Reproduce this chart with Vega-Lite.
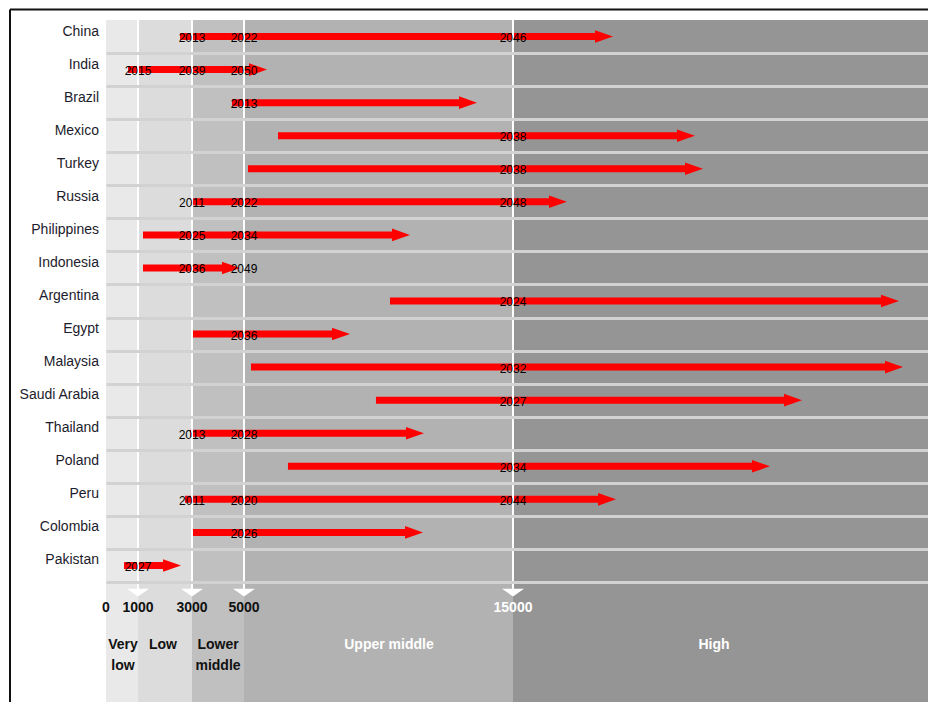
{
  "$schema": "https://vega.github.io/schema/vega-lite/v6.json",
  "width": 822,
  "height": 682,
  "autosize": "none",
  "padding": {"left": 106, "top": 20, "right": 0, "bottom": 0},
  "background": "white",
  "config": {
    "view": {"stroke": null},
    "axisX": {"disable": true},
    "font": "Liberation Sans"
  },
  "datasets": {
    "countries": [
      {"country": "China", "row": 0, "start": 2556, "end": 18717},
      {"country": "India", "row": 1, "start": 688, "end": 5855},
      {"country": "Brazil", "row": 2, "start": 4538, "end": 13661},
      {"country": "Mexico", "row": 3, "start": 6264, "end": 21765},
      {"country": "Turkey", "row": 4, "start": 5149, "end": 22062},
      {"country": "Russia", "row": 5, "start": 3000, "end": 17007},
      {"country": "Philippines", "row": 6, "start": 1185, "end": 11170},
      {"country": "Indonesia", "row": 7, "start": 1185, "end": 4846},
      {"country": "Argentina", "row": 8, "start": 10427, "end": 29348},
      {"country": "Egypt", "row": 9, "start": 3000, "end": 8940},
      {"country": "Malaysia", "row": 10, "start": 5260, "end": 29496},
      {"country": "Saudi Arabia", "row": 11, "start": 9906, "end": 25742},
      {"country": "Thailand", "row": 12, "start": 2926, "end": 11691},
      {"country": "Poland", "row": 13, "start": 6635, "end": 24553},
      {"country": "Peru", "row": 14, "start": 2741, "end": 18829},
      {"country": "Colombia", "row": 15, "start": 3038, "end": 11654},
      {"country": "Pakistan", "row": 16, "start": 563, "end": 2593}
    ],
    "years": [
      {"country": "China", "v": 3000, "year": "2013"},
      {"country": "China", "v": 5000, "year": "2022"},
      {"country": "China", "v": 15000, "year": "2046"},
      {"country": "India", "v": 1000, "year": "2015"},
      {"country": "India", "v": 3000, "year": "2039"},
      {"country": "India", "v": 5000, "year": "2050"},
      {"country": "Brazil", "v": 5000, "year": "2013"},
      {"country": "Mexico", "v": 15000, "year": "2038"},
      {"country": "Turkey", "v": 15000, "year": "2038"},
      {"country": "Russia", "v": 3000, "year": "2011"},
      {"country": "Russia", "v": 5000, "year": "2022"},
      {"country": "Russia", "v": 15000, "year": "2048"},
      {"country": "Philippines", "v": 3000, "year": "2025"},
      {"country": "Philippines", "v": 5000, "year": "2034"},
      {"country": "Indonesia", "v": 3000, "year": "2036"},
      {"country": "Indonesia", "v": 5000, "year": "2049"},
      {"country": "Argentina", "v": 15000, "year": "2024"},
      {"country": "Egypt", "v": 5000, "year": "2036"},
      {"country": "Malaysia", "v": 15000, "year": "2032"},
      {"country": "Saudi Arabia", "v": 15000, "year": "2027"},
      {"country": "Thailand", "v": 3000, "year": "2013"},
      {"country": "Thailand", "v": 5000, "year": "2028"},
      {"country": "Poland", "v": 15000, "year": "2034"},
      {"country": "Peru", "v": 3000, "year": "2011"},
      {"country": "Peru", "v": 5000, "year": "2020"},
      {"country": "Peru", "v": 15000, "year": "2044"},
      {"country": "Colombia", "v": 5000, "year": "2026"},
      {"country": "Pakistan", "v": 1000, "year": "2027"}
    ],
    "thresholds": [
      {"v": 0, "lab": "0"},
      {"v": 1000, "lab": "1000"},
      {"v": 3000, "lab": "3000"},
      {"v": 5000, "lab": "5000"},
      {"v": 15000, "lab": "15000"}
    ],
    "bands": [
      {"band": "Very low", "from": 0, "to": 1000, "mid": 531, "label": ["Very", "low"]},
      {"band": "Low", "from": 1000, "to": 3000, "mid": 1926, "label": ["Low"]},
      {"band": "Lower middle", "from": 3000, "to": 5000, "mid": 4000, "label": ["Lower", "middle"]},
      {"band": "Upper middle", "from": 5000, "to": 15000, "mid": 10390, "label": ["Upper middle"]},
      {"band": "High", "from": 15000, "to": 30426, "mid": 22471, "label": ["High"]}
    ]
  },
  "layer": [
    {
      "data": {"name": "bands"},
      "mark": {"type": "rect"},
      "encoding": {
        "x": {"field": "from", "type": "quantitative", "scale": {"type": "linear", "domain": [0, 1000, 3000, 5000, 15000, 30426], "range": [0, 32, 86, 138, 407, 822], "nice": false, "zero": false}},
        "x2": {"field": "to"},
        "color": {"field": "band", "type": "nominal", "legend": null,
          "scale": {"domain": ["Very low", "Low", "Lower middle", "Upper middle", "High"], "range": ["#e9e9e9", "#dcdcdc", "#c0c0c0", "#b2b2b2", "#959595"]}}
      }
    },
    {
      "data": {"name": "countries"},
      "mark": {"type": "rule", "color": "#ff0000", "strokeWidth": 7, "x2Offset": -14},
      "encoding": {
        "x": {"field": "start", "type": "quantitative", "scale": {"type": "linear", "domain": [0, 1000, 3000, 5000, 15000, 30426], "range": [0, 32, 86, 138, 407, 822], "nice": false, "zero": false}},
        "x2": {"field": "end"},
        "y": {"field": "row", "type": "quantitative",
          "scale": {"domain": [-0.5, 20.13], "reverse": true, "nice": false, "zero": false},
          "axis": {"values": [0.5, 1.5, 2.5, 3.5, 4.5, 5.5, 6.5, 7.5, 8.5, 9.5, 10.5, 11.5, 12.5, 13.5, 14.5, 15.5, 16.5], "grid": true, "gridColor": "#d2d2d2", "gridWidth": 3, "gridOpacity": 1, "labels": false, "ticks": false, "domain": false, "title": null, "zindex": 1}}
      }
    },
    {
      "data": {"name": "thresholds"},
      "transform": [{"filter": "datum.v > 0"}],
      "mark": {"type": "rule", "color": "white", "strokeWidth": 2},
      "encoding": {
        "x": {"field": "v", "type": "quantitative", "scale": {"type": "linear", "domain": [0, 1000, 3000, 5000, 15000, 30426], "range": [0, 32, 86, 138, 407, 822], "nice": false, "zero": false}},
        "y": {"datum": -0.5, "type": "quantitative"},
        "y2": {"datum": 16.74}
      }
    },
    {
      "data": {"name": "thresholds"},
      "transform": [{"filter": "datum.v > 0"}],
      "mark": {"type": "point", "shape": "M-1,-0.35L1,-0.35L0,0.35Z", "size": 484, "filled": true, "color": "white", "opacity": 1, "strokeWidth": 0},
      "encoding": {
        "x": {"field": "v", "type": "quantitative", "scale": {"type": "linear", "domain": [0, 1000, 3000, 5000, 15000, 30426], "range": [0, 32, 86, 138, 407, 822], "nice": false, "zero": false}},
        "y": {"datum": 16.82, "type": "quantitative"}
      }
    },
    {
      "data": {"name": "countries"},
      "mark": {"type": "point", "shape": "M-1,-0.7L1,0L-1,0.7Z", "size": 324, "filled": true, "color": "#ff0000", "opacity": 1, "strokeWidth": 0, "xOffset": -9},
      "encoding": {
        "x": {"field": "end", "type": "quantitative", "scale": {"type": "linear", "domain": [0, 1000, 3000, 5000, 15000, 30426], "range": [0, 32, 86, 138, 407, 822], "nice": false, "zero": false}},
        "y": {"field": "row", "type": "quantitative"}
      }
    },
    {
      "data": {"name": "years"},
      "transform": [{"lookup": "country", "from": {"data": {"name": "countries"}, "key": "country", "fields": ["row"]}}],
      "mark": {"type": "text", "fontSize": 12, "color": "#000000", "align": "center", "baseline": "middle", "dy": 1.5},
      "encoding": {
        "x": {"field": "v", "type": "quantitative", "scale": {"type": "linear", "domain": [0, 1000, 3000, 5000, 15000, 30426], "range": [0, 32, 86, 138, 407, 822], "nice": false, "zero": false}},
        "y": {"field": "row", "type": "quantitative"},
        "text": {"field": "year"}
      }
    },
    {
      "data": {"name": "countries"},
      "mark": {"type": "text", "fontSize": 14, "color": "#1c1c2c", "align": "right", "baseline": "middle", "dx": -7, "dy": -5},
      "encoding": {
        "x": {"datum": 0, "type": "quantitative"},
        "y": {"field": "row", "type": "quantitative"},
        "text": {"field": "country"}
      }
    },
    {
      "data": {"name": "thresholds"},
      "mark": {"type": "text", "fontSize": 14, "fontWeight": "bold", "align": "center", "baseline": "middle"},
      "encoding": {
        "x": {"field": "v", "type": "quantitative", "scale": {"type": "linear", "domain": [0, 1000, 3000, 5000, 15000, 30426], "range": [0, 32, 86, 138, 407, 822], "nice": false, "zero": false}},
        "y": {"datum": 17.29, "type": "quantitative"},
        "text": {"field": "lab"},
        "color": {"condition": {"test": "datum.v == 15000", "value": "white"}, "value": "#111111"}
      }
    },
    {
      "data": {"name": "bands"},
      "mark": {"type": "text", "fontSize": 14, "fontWeight": "bold", "align": "center", "baseline": "top", "lineHeight": 21},
      "encoding": {
        "x": {"field": "mid", "type": "quantitative", "scale": {"type": "linear", "domain": [0, 1000, 3000, 5000, 15000, 30426], "range": [0, 32, 86, 138, 407, 822], "nice": false, "zero": false}},
        "y": {"datum": 18.19, "type": "quantitative"},
        "text": {"field": "label"},
        "color": {"condition": {"test": "datum.from >= 5000", "value": "white"}, "value": "#111111"}
      }
    },
    {
      "data": {"values": [{}]},
      "mark": {"type": "rule", "color": "#111111", "strokeWidth": 2},
      "encoding": {
        "x": {"datum": -3000, "type": "quantitative"},
        "x2": {"datum": 30426},
        "y": {"datum": -0.818, "type": "quantitative"}
      }
    },
    {
      "data": {"values": [{}]},
      "mark": {"type": "rule", "color": "#111111", "strokeWidth": 2},
      "encoding": {
        "x": {"datum": -3000, "type": "quantitative"},
        "y": {"datum": -0.818, "type": "quantitative"},
        "y2": {"datum": 20.13}
      }
    }
  ]
}
